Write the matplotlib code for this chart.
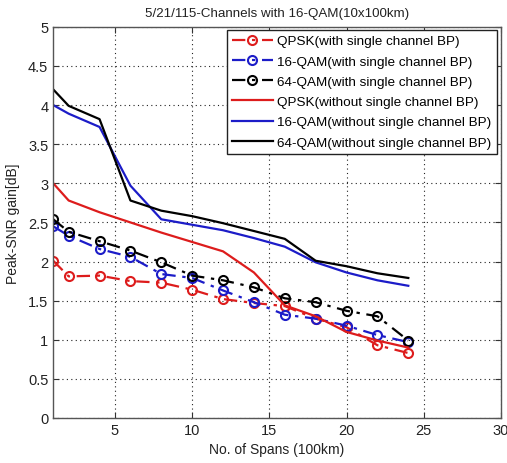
import matplotlib
matplotlib.use("Agg")
import matplotlib.pyplot as plt

plt.rcParams['font.family'] = ['Liberation Sans', 'DejaVu Sans']

spans = [1, 2, 4, 6, 8, 10, 12, 14, 16, 18, 20, 22, 24]
qpsk_bp = [2.01, 1.81, 1.82, 1.75, 1.73, 1.64, 1.52, 1.47, 1.43, 1.27, 1.16, 0.93, 0.83]
qam16_bp = [2.45, 2.33, 2.16, 2.06, 1.84, 1.79, 1.63, 1.48, 1.32, 1.27, 1.18, 1.06, 0.97]
qam64_bp = [2.54, 2.38, 2.26, 2.14, 1.99, 1.82, 1.76, 1.67, 1.53, 1.48, 1.37, 1.30, 0.99]
qpsk = [3.0, 2.78, 2.63, 2.50, 2.37, 2.25, 2.13, 1.86, 1.44, 1.30, 1.10, 0.99, 0.90]
qam16 = [4.0, 3.89, 3.72, 2.97, 2.54, 2.47, 2.40, 2.30, 2.19, 1.99, 1.86, 1.76, 1.69]
qam64 = [4.2, 3.99, 3.82, 2.78, 2.65, 2.58, 2.49, 2.39, 2.29, 2.01, 1.94, 1.85, 1.79]

labels_bp = ['QPSK(with single channel BP)', '16-QAM(with single channel BP)',
             '64-QAM(with single channel BP)']
labels_nobp = ['QPSK(without single channel BP)', '16-QAM(without single channel BP)',
               '64-QAM(without single channel BP)']
colors = ['#dd1c1c', '#1c1cc8', '#000000']

xticks = [5, 10, 15, 20, 25, 30]
yticks = [0, 0.5, 1, 1.5, 2, 2.5, 3, 3.5, 4, 4.5, 5]
ytick_labels = ['0', '0.5', '1', '1.5', '2', '2.5', '3', '3.5', '4', '4.5', '5']

fig = plt.figure(figsize=(5.07, 4.64), dpi=100)
ax = fig.add_axes([0.105, 0.097, 0.883, 0.843])

for ys, c, lab in zip([qpsk_bp, qam16_bp, qam64_bp], colors, labels_bp):
    ln, = ax.plot(spans, ys, color=c, lw=1.6, marker='o', markersize=6.5,
                  markerfacecolor='none', markeredgecolor=c, markeredgewidth=1.5,
                  label=lab)
    ln.set_dashes([6, 3, 1.5, 3])

for ys, c, lab in zip([qpsk, qam16, qam64], colors, labels_nobp):
    ax.plot(spans, ys, color=c, lw=1.6, linestyle='-', label=lab)

ax.set_xlim(1, 30)
ax.set_ylim(0, 5)
ax.set_xticks(xticks)
ax.set_yticks(yticks)
ax.set_yticklabels(ytick_labels)
ax.tick_params(direction='in', top=True, right=True, labelsize=10.5,
               length=4, colors='#333333', labelcolor='#222222')
ax.grid(True, linestyle=(0, (1, 3)), color='#222222', linewidth=0.8)
for s in ax.spines.values():
    s.set_color('#555555')
    s.set_linewidth(1.0)

ax.set_title('5/21/115-Channels with 16-QAM(10x100km)', fontsize=9.6, color='#222222', pad=8)
ax.set_xlabel('No. of Spans (100km)', fontsize=10, color='#222222', labelpad=4)
ax.set_ylabel('Peak-SNR gain[dB]', fontsize=10, color='#222222', labelpad=6)

leg = ax.legend(loc='upper right', bbox_to_anchor=(0.991, 0.993), fontsize=9.7,
                frameon=True, fancybox=False, framealpha=1, edgecolor='#222222',
                handlelength=3.0, handletextpad=0.35, borderpad=0.4, labelspacing=0.58,
                borderaxespad=0)
leg.get_frame().set_linewidth(1.0)

fig.savefig('out.png', dpi=100)
